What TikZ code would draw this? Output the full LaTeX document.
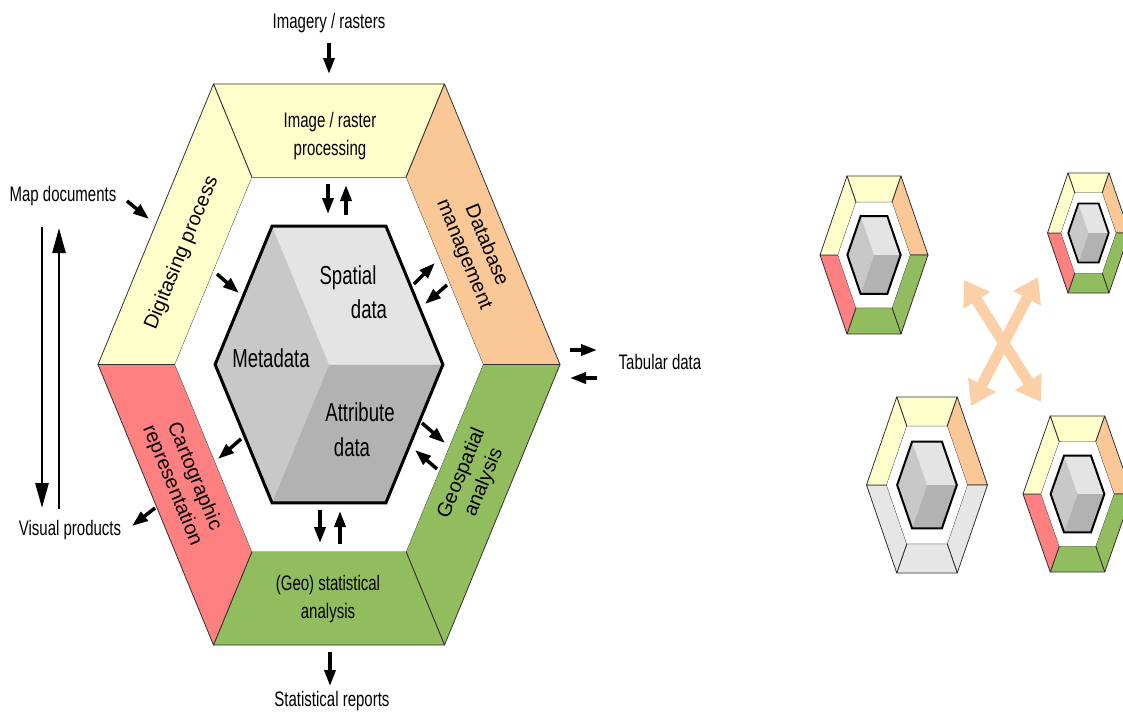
\documentclass[tikz,border=0pt]{standalone}
\usepackage{fontspec}
\setmainfont{Liberation Sans}
\usetikzlibrary{arrows.meta}
\definecolor{hyel}{RGB}{255,255,204}
\definecolor{hora}{RGB}{250,200,150}
\definecolor{hgrn}{RGB}{146,189,94}
\definecolor{hred}{RGB}{255,128,128}
\definecolor{hgry}{RGB}{230,230,230}
\definecolor{cubeL}{RGB}{200,200,200}
\definecolor{cubeT}{RGB}{228,228,228}
\definecolor{cubeB}{RGB}{178,178,178}
\definecolor{bandline}{RGB}{50,50,50}
\definecolor{xorange}{RGB}{251,208,166}
\tikzset{
  band/.style={draw=bandline,line width=0.8pt,line join=round},
  lbl/.style={transform shape,font=\fontsize{21}{28}\selectfont,align=center,inner sep=0pt},
  rlbl/.style={font=\fontsize{20}{24}\selectfont,align=center,inner sep=0pt},
  cubelbl/.style={transform shape,font=\fontsize{26}{30}\selectfont,inner sep=0pt},
  flowarrow/.style={line width=3.5pt,-{Triangle[length=16pt,width=11pt]}},
  longarrow/.style={line width=2.6pt,-{Triangle[length=25pt,width=13pt]}},
  crossarrow/.style={xorange,line width=11pt,{Triangle[length=24pt,width=30pt]}-{Triangle[length=24pt,width=30pt]}}
}
% #1 cx, #2 cy, #3 half width, #4 half height, #5 lower-right, #6 bottom, #7 lower-left, #8 cube line width
\newcommand\gishex[8]{%
  \begin{scope}[shift={(#1,#2)},xscale=#3,yscale=#4]
    \filldraw[band,fill=hyel] (-0.5,-1) -- (0.5,-1) -- (1/3,-2/3) -- (-1/3,-2/3) -- cycle;
    \filldraw[band,fill=hora] (0.5,-1) -- (1,0) -- (2/3,0) -- (1/3,-2/3) -- cycle;
    \filldraw[band,fill=#5] (1,0) -- (0.5,1) -- (1/3,2/3) -- (2/3,0) -- cycle;
    \filldraw[band,fill=#6] (0.5,1) -- (-0.5,1) -- (-1/3,2/3) -- (1/3,2/3) -- cycle;
    \filldraw[band,fill=#7] (-0.5,1) -- (-1,0) -- (-2/3,0) -- (-1/3,2/3) -- cycle;
    \filldraw[band,fill=hyel] (-1,0) -- (-0.5,-1) -- (-1/3,-2/3) -- (-2/3,0) -- cycle;
    \fill[white] (-1/3,-2/3) -- (1/3,-2/3) -- (2/3,0) -- (1/3,2/3) -- (-1/3,2/3) -- (-2/3,0) -- cycle;
    \fill[cubeT] (-0.2465,-0.493) -- (0.2465,-0.493) -- (0.493,0) -- (0,0) -- cycle;
    \fill[cubeL] (-0.2465,-0.493) -- (0,0) -- (-0.2465,0.493) -- (-0.493,0) -- cycle;
    \fill[cubeB] (0,0) -- (0.493,0) -- (0.2465,0.493) -- (-0.2465,0.493) -- cycle;
    \draw[black,line width=#8,line join=miter] (-0.2465,-0.493) -- (0.2465,-0.493) -- (0.493,0) -- (0.2465,0.493) -- (-0.2465,0.493) -- (-0.493,0) -- cycle;
  \end{scope}}
\begin{document}
\begin{tikzpicture}[x=1pt,y=-1pt]
\useasboundingbox (0,0) rectangle (1123,720);
\fill[white] (0,0) rectangle (1123,720);
\clip (0,0) rectangle (1123,720);
\begin{scope}[xscale=0.714286,x=1.4pt]
  % main hexagon
  \gishex{329}{364.5}{231}{280.5}{hgrn}{hgrn}{hred}{3pt}
  % labels of the ring
  \node[lbl] (imgproc) at (330,136) {Image / raster\\processing};
  \node[rlbl,rotate=-67.6] (dbm) at (475,250) {Database\\management};
  \node[rlbl,rotate=67.6] (digit) at (182,253) {Digitasing process};
  \node[rlbl,rotate=-67.6] (carto) at (183,481) {Cartographic\\representation};
  \node[rlbl,rotate=67.6] (geosp) at (473,478) {Geospatial\\analysis};
  \node[lbl] (geostat) at (328,599) {(Geo) statistical\\analysis};
  % cube labels
  \node[cubelbl,anchor=base] (spat1) at (348,284) {Spatial};
  \node[cubelbl,anchor=base] (spat2) at (369,318) {data};
  \node[cubelbl,anchor=base] (meta) at (271,367) {Metadata};
  \node[cubelbl,anchor=base] (attr1) at (360,421) {Attribute};
  \node[cubelbl,anchor=base] (attr2) at (352,456) {data};
  % outer labels
  \node[lbl] (imagery) at (329,23) {Imagery / rasters};
  \node[lbl] (mapdoc) at (63,196) {Map documents};
  \node[lbl] (visual) at (70,530) {Visual products};
  \node[lbl] (tabular) at (660,362) {Tabular data};
  \node[lbl] (statrep) at (332,701) {Statistical reports};
  % flow arrows
  \draw[flowarrow] (329,43) -- (329,74);
  \draw[flowarrow] (328,184) -- (328,214);
  \draw[flowarrow] (346,215) -- (346,185);
  \draw[flowarrow] (127,201) -- (149,219);
  \draw[flowarrow] (217,274) -- (239,293);
  \draw[flowarrow] (414,284) -- (435,263);
  \draw[flowarrow] (447,285) -- (425,304);
  \draw[flowarrow] (570,350) -- (597,350);
  \draw[flowarrow] (597,378) -- (570,378);
  \draw[flowarrow] (422,423) -- (445,443);
  \draw[flowarrow] (437,469) -- (415,450);
  \draw[flowarrow] (241,439) -- (218,459);
  \draw[flowarrow] (155,508) -- (132,526);
  \draw[flowarrow] (320,510) -- (320,543);
  \draw[flowarrow] (340,544) -- (340,511);
  \draw[flowarrow] (330,652) -- (330,686);
  \draw[longarrow] (42,227) -- (42,508);
  \draw[longarrow] (59,509) -- (59,228);
  % small hexagons
  \gishex{874}{255}{54}{79}{hgrn}{hgrn}{hred}{2pt}
  \gishex{1088.5}{233}{41}{60}{hgrn}{hgrn}{hred}{1.8pt}
  \gishex{927}{485}{60.5}{88}{hgry}{hgry}{hgry}{2pt}
  \gishex{1077.5}{494}{54.5}{78}{hgrn}{hgrn}{hred}{2pt}
  % orange cross
  \draw[crossarrow] (964,280) -- (1041,402);
  \draw[crossarrow] (1038,277) -- (971,406);
\end{scope}
\end{tikzpicture}
\end{document}
